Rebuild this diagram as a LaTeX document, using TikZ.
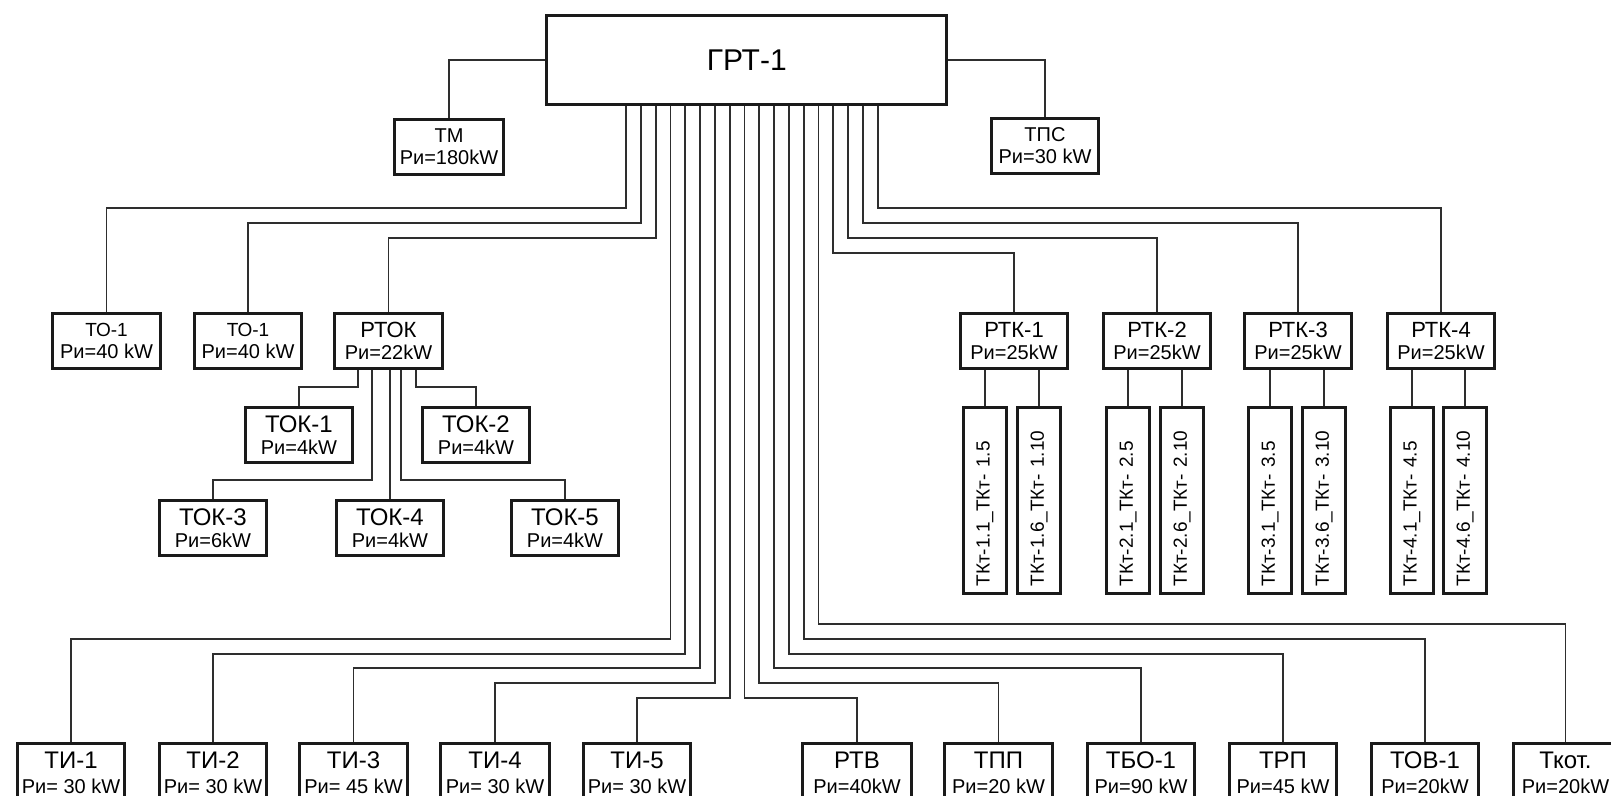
\documentclass[tikz,border=0pt]{standalone}
\usepackage{fontspec}
\setmainfont{Liberation Sans}
\usepackage{xcolor}
\usepackage{tikz}
\usetikzlibrary{positioning,calc}
\definecolor{ink}{HTML}{1A1A1A}
\definecolor{wiregray}{HTML}{2E2E2E}
\tikzset{
  unit/.style={draw=ink, line width=1.5pt, fill=white, inner sep=0pt, align=center,
    minimum width=53.5pt, minimum height=27.5pt, anchor=north west, font=\fontsize{10}{11}\selectfont},
  main/.style={unit, line width=1.7pt, minimum width=200pt, minimum height=44.5pt, font=\fontsize{15}{18}\selectfont},
  low/.style={unit, minimum height=29pt, font=\fontsize{10}{12.5}\selectfont},
  tkt/.style={draw=ink, line width=1.5pt, fill=white, rotate=90, anchor=east, minimum width=93pt,
    minimum height=21.5pt, inner xsep=3.5pt, inner ysep=0pt, text width=86pt, align=left,
    font=\fontsize{9.5}{11}\selectfont},
  wire/.style={draw=wiregray, line width=.9pt}
}
\newcommand{\hdA}[1]{{\fontsize{11}{11}\selectfont #1}}
\newcommand{\hdB}[1]{{\fontsize{12}{12}\selectfont #1}}

\begin{document}
\begin{tikzpicture}[x=.5pt,y=-.5pt]
  \useasboundingbox[fill=white] (0,0) rectangle (1611,796);

  \node[main] (grt) at (545,14) {ГРТ-1};
  \node[unit,minimum width=54.5pt] (tm) at (393,118) {ТМ\\Ри=180kW};
  \node[unit] (tps) at (990,117) {ТПС\\Ри=30 kW};

  \node[unit,minimum width=54pt] (to1a) at (51,312) {{\fontsize{9.5}{10}\selectfont ТО-1}\\Ри=40 kW};
  \node[unit] (to1b) at (193,312) {{\fontsize{9.5}{10}\selectfont ТО-1}\\Ри=40 kW};
  \node[unit,minimum width=54pt] (rtok) at (333,312) {\hdA{РТОК}\\Ри=22kW};
  \node[unit] (tok1) at (244,406) {\hdB{ТОК-1}\\Ри=4kW};
  \node[unit] (tok2) at (421,406) {\hdB{ТОК-2}\\Ри=4kW};
  \node[unit] (tok3) at (158,499) {\hdB{ТОК-3}\\Ри=6kW};
  \node[unit] (tok4) at (335,499) {\hdB{ТОК-4}\\Ри=4kW};
  \node[unit] (tok5) at (510,499) {\hdB{ТОК-5}\\Ри=4kW};

  \node[unit] (rtk1) at (959,312) {\hdA{РТК-1}\\Ри=25kW};
  \node[unit] (rtk2) at (1102,312) {\hdA{РТК-2}\\Ри=25kW};
  \node[unit] (rtk3) at (1243,312) {\hdA{РТК-3}\\Ри=25kW};
  \node[unit] (rtk4) at (1386,312) {\hdA{РТК-4}\\Ри=25kW};
  \node[tkt] (tkt1a) at (985,406) {ТКт-1.1\_ТКт- 1.5};
  \node[tkt] (tkt1b) at (1039,406) {ТКт-1.6\_ТКт- 1.10};
  \node[tkt] (tkt2a) at (1128,406) {ТКт-2.1\_ТКт- 2.5};
  \node[tkt] (tkt2b) at (1182,406) {ТКт-2.6\_ТКт- 2.10};
  \node[tkt] (tkt3a) at (1270,406) {ТКт-3.1\_ТКт- 3.5};
  \node[tkt] (tkt3b) at (1324,406) {ТКт-3.6\_ТКт- 3.10};
  \node[tkt] (tkt4a) at (1412,406) {ТКт-4.1\_ТКт- 4.5};
  \node[tkt] (tkt4b) at (1465,406) {ТКт-4.6\_ТКт- 4.10};

  \node[low] (ti1) at (16,742) {\hdB{ТИ-1}\\Ри= 30 kW};
  \node[low] (ti2) at (158,742) {\hdB{ТИ-2}\\Ри= 30 kW};
  \node[low,minimum width=54pt] (ti3) at (298,742) {\hdB{ТИ-3}\\Ри= 45 kW};
  \node[low,minimum width=54.5pt] (ti4) at (439,742) {\hdB{ТИ-4}\\Ри= 30 kW};
  \node[low] (ti5) at (582,742) {\hdB{ТИ-5}\\Ри= 30 kW};
  \node[low,minimum width=54.5pt] (rtv) at (801,742) {\hdB{РТВ}\\Ри=40kW};
  \node[low,minimum width=54pt] (tpp) at (943,742) {\hdB{ТПП}\\Ри=20 kW};
  \node[low] (tbo) at (1086,742) {\hdB{ТБО-1}\\Ри=90 kW};
  \node[low] (trp) at (1228,742) {\hdB{ТРП}\\Ри=45 kW};
  \node[low] (tov) at (1370,742) {\hdB{ТОВ-1}\\Ри=20kW};
  \node[low,minimum width=52pt] (tkot) at (1512,742) {\hdB{Ткот.}\\Ри=20kW};

  \draw[wire] (grt.west) -| (tm.north);
  \draw[wire] (grt.east) -| (tps.north);
  \foreach \x/\y/\tgt in {626/208/to1a, 640.8/223/to1b, 655.6/238/rtok,
      670.4/639/ti1, 685.2/654/ti2, 700/668/ti3, 714.8/683/ti4, 729.6/698/ti5,
      744.4/698/rtv, 759.2/683/tpp, 774/668/tbo, 788.8/654/trp, 803.6/639/tov, 818.4/624/tkot,
      833.2/253/rtk1, 848/238/rtk2, 862.8/223/rtk3, 877.6/208/rtk4}
    \draw[wire] (\x,0 |- grt.south) -- (\x,\y) -| (\tgt.north);

  \foreach \x/\y/\tgt in {358/387/tok1, 372/480/tok3, 401/480/tok5, 416/387/tok2}
    \draw[wire] (\x,0 |- rtok.south) -- (\x,\y) -| (\tgt.north);
  \draw[wire] (tok4.north) -- (tok4.north |- rtok.south);

  \foreach \k in {1,...,4}{
    \draw[wire] (tkt\k a.east) -- (tkt\k a.east |- rtk\k.south);
    \draw[wire] (tkt\k b.east) -- (tkt\k b.east |- rtk\k.south);
  }
\end{tikzpicture}
\end{document}
